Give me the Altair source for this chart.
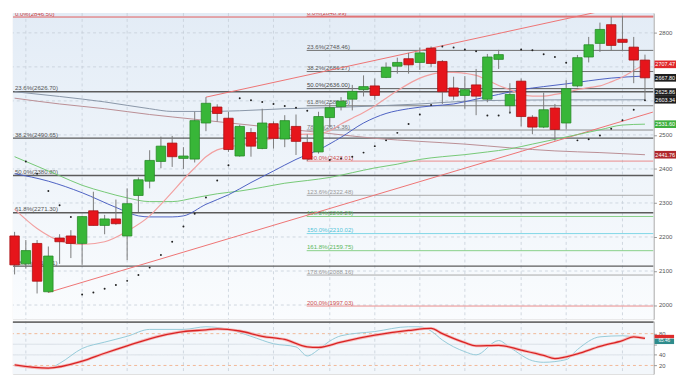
import altair as alt
import pandas as pd

# ---------------- data ----------------
idx = list(range(57))
opens = [2203,2121,2181,2039,2197,2203,2181,2277,2234,2253,2203,2322,2364,2422,2476,2431,2429,2535,2582,2549,
         2438,2507,2460,2533,2488,2525,2478,2450,2551,2583,2605,2633,2644,2669,2702,2724,2713,2755,2716,2638,
         2616,2647,2605,2722,2586,2658,2552,2523,2579,2535,2644,2729,2769,2824,2781,2758,2720]
highs = [2215,2191,2191,2172,2208,2220,2262,2333,2265,2310,2343,2375,2455,2495,2497,2464,2568,2611,2590,2568,
         2530,2520,2577,2540,2558,2560,2502,2568,2594,2611,2647,2675,2666,2713,2727,2741,2757,2760,2720,2671,
         2673,2694,2738,2750,2652,2666,2558,2624,2591,2661,2735,2788,2830,2847,2849,2788,2736]
lows = [2090,2107,2034,2036,2121,2138,2118,2234,2208,2236,2132,2273,2343,2402,2406,2400,2419,2511,2539,2450,
        2436,2436,2458,2460,2464,2441,2423,2445,2521,2572,2572,2613,2603,2667,2680,2680,2691,2699,2591,2603,
        2577,2558,2596,2694,2563,2525,2502,2520,2483,2516,2640,2713,2744,2748,2746,2652,2605]
closes = [2118,2160,2070,2144,2186,2181,2260,2234,2253,2239,2298,2368,2425,2467,2436,2438,2542,2593,2563,2457,
          2525,2467,2535,2490,2542,2481,2429,2554,2580,2599,2628,2642,2616,2699,2713,2706,2741,2710,2627,2614,
          2633,2614,2729,2736,2619,2554,2523,2574,2516,2636,2727,2765,2810,2763,2772,2720,2667.8]

pink_i = [0,2,4,6,8,10,12,13,14,15,16,17,18,19,21,23,25,27,28,29,30,31,32,33,34,35,36,37,38,39,40,41,42,43,44,45,46,47,48,49,50,51,52,53,54,55,56]
pink_v = [2282,2225,2189,2178,2186,2217,2262,2296,2332,2369,2403,2436,2456,2464,2476,2490,2501,2504,2512,2532,2549,2566,2585,2608,2630,2650,2667,2678,2684,2684,2681,2675,2661,2645,2633,2619,2614,2614,2619,2625,2633,2639,2644,2656,2670,2689,2707.47]
blue_i = [0,3,6,9,11,12,14,15,17,19,21,23,25,27,29,31,33,35,37,39,41,43,45,47,49,51,53,56]
blue_v = [2386,2364,2330,2287,2262,2259,2259,2262,2296,2324,2360,2394,2428,2456,2493,2535,2563,2577,2585,2591,2605,2619,2633,2642,2650,2659,2667,2673]
green_i = list(range(0, 57, 2))
green_v = [2436,2408,2380,2352,2332,2315,2304,2304,2315,2327,2335,2346,2358,2366,2375,2389,2403,2414,2428,2436,2442,2450,2459,2473,2487,2501,2515,2529,2531.6]
gray_i = [0,4,8,12,14,17,20,24,28,32,36,40,44,48,52,56]
gray_v = [2627,2613,2597,2577,2569,2569,2571,2577,2580,2585,2591,2599,2602,2603,2603,2603.34]
brown_i = [0,4,8,12,16,20,24,28,32,36,40,44,48,52,56]
brown_v = [2608,2591,2577,2560,2546,2532,2518,2504,2490,2481,2473,2462,2453,2448,2441.76]

chan_up_i = [17, 52]
chan_up_v = [2611, 2863]
chan_lo_i = [3, 56.7]
chan_lo_v = [2037, 2567]

sar_i = [1,2,3,4,5,6,7,8,9,10,11,12,13,14,15,16,17,18,19,20,21,22,23,24,25,26,28,29,30,31,32,33,34,35,36,37,
         38,39,40,41,42,43,44,45,46,47,48,49,50,51,52,53,54,55,56]
sar_v = [2422,2386,2335,2293,2259,2031,2037,2048,2059,2071,2088,2110,2147,2186,2231,2268,2316,2366,2411,2608,
         2602,2597,2591,2585,2580,2571,2426,2431,2436,2448,2467,2484,2506,2532,2560,2588,
         2760,2757,2751,2746,2557,2557,2566,2751,2749,2737,2729,2712,2484,2487,2498,2518,2543,2574,2602]

left_pct = ["0.0%", "23.6%", "38.2%", "50.0%", "61.8%", "78.6%"]
left_val = [2846.50, 2626.70, 2490.65, 2380.80, 2271.30, 2114.41]
right_pct = ["0.0%", "23.6%", "38.2%", "50.0%", "61.8%", "78.6%", "100.0%", "123.6%", "138.2%", "150.0%", "161.8%", "178.6%", "200.0%"]
right_val = [2848.99, 2748.46, 2686.27, 2636.00, 2585.73, 2514.36, 2423.01, 2322.48, 2260.29, 2210.02, 2159.75, 2088.16, 1997.03]

price_ticks = [2000, 2100, 2200, 2300, 2400, 2500, 2600, 2700, 2800]
hidden_price_labels = [2600, 2700]   # covered by the value boxes in the reference
vgrid_i = [1, 6, 10, 15, 19, 23, 28, 32, 36, 40, 45, 49, 54]

box_v = [2707.47, 2667.80, 2625.86, 2603.34, 2531.60, 2441.76]
box_t = ["2707.47", "2667.80", "2625.86", "2603.34", "2531.60", "2441.76"]

stD_i = [0,3,6,8,10,13,15,17,18,20,22,24,26,27,29,32,35,37,38,40,41,43,45,47,48,50,52,54,55,56]
stD_v = [21,15,28,43,57,76,84,87,89,85,75,69,55,54,64,77,86,90,80,63,57,58,49,39,33,42,56,67,74,71]
stK_i = [0,3,4,6,8,10,12,15,17,19,21,23,25,26,27,28,29,32,35,36,37,38,40,41,43,44,46,47,49,50,52,54,55,56]
stK_v = [20,14,24,52,64,75,88,88,93,88,75,61,55,38,50,66,76,84,93,93,85,68,46,40,67,54,29,26,31,50,74,76,74,71]
stoch_ticks = [20, 40, 60, 80]
hidden_stoch_labels = [60]
stoch_band_v = [74.53]
stoch_box_v = [65.46]
stoch_box_t = ["65.46"]

# ---------------- styling ----------------
W, H1, H2 = 655, 313, 54
FONT = "Liberation Sans"
xs = alt.Scale(domain=[-0.15, 56.76], nice=False, zero=False)
ys = alt.Scale(domain=[1958.4, 2858.2], nice=False, zero=False)
ss = alt.Scale(domain=[4, 103.6], nice=False, zero=False)

hide_p = " || ".join(f"datum.value == {v}" for v in hidden_price_labels)
hide_s = " || ".join(f"datum.value == {v}" for v in hidden_stoch_labels)
main_axis = alt.Axis(orient="right", values=price_ticks, tickSize=3, labelFontSize=6.2, labelFont=FONT,
                     labelColor="#555555", tickColor="#999999", domainColor="#999999", labelPadding=2,
                     grid=False, title=None, format="d", zindex=0,
                     labelExpr=f"({hide_p}) ? '' : datum.label")
st_axis = alt.Axis(orient="right", values=stoch_ticks, tickSize=3, labelFontSize=6, labelFont=FONT,
                   labelColor="#555555", tickColor="#999999", domainColor="#999999", labelPadding=2,
                   grid=False, title=None, format="d", zindex=0,
                   labelExpr=f"({hide_s}) ? '' : datum.label")


def X(f):
    return alt.X(f, type="quantitative", scale=xs, axis=None)


def Y(f):
    return alt.Y(f, type="quantitative", scale=ys, axis=main_axis)


def S(f):
    return alt.Y(f, type="quantitative", scale=ss, axis=st_axis)


one = pd.DataFrame({"a": [0]})

# ---------------- main panel ----------------
bg = alt.Chart(one).mark_rect(
    color=alt.LinearGradient(gradient="linear", x1=0, x2=0, y1=0, y2=1,
                             stops=[alt.GradientStop(color="#e3ecf6", offset=0),
                                    alt.GradientStop(color="#fafcfe", offset=1)])
).encode(x=alt.value(0), x2=alt.value(W), y=alt.value(0), y2=alt.value(H1))

hgrid = alt.Chart(pd.DataFrame({"v": price_ticks})).mark_rule(
    color="#c5ced8", strokeDash=[3, 3], strokeWidth=0.8).encode(y=Y("v"))
vgrid = alt.Chart(pd.DataFrame({"g": vgrid_i})).mark_rule(
    color="#c5ced8", strokeDash=[3, 3], strokeWidth=0.8).encode(x=X("g"))

lcol = ["#e05a5a"] + ["#5c5c5c"] * 5
ltxt = ["#d04040"] + ["#555555"] * 5
rcol = ["#e05a5a", "#6a6a6a", "#6a6a6a", "#555555", "#7a7a7a", "#8a8a8a", "#ea8a8a", "#a8a8a8",
        "#86cf86", "#7fd6e6", "#86cf86", "#a8a8a8", "#ea8a8a"]
rtxt = ["#d04040", "#555555", "#555555", "#444444", "#666666", "#777777", "#d05050", "#999999",
        "#5cb85c", "#4fc3d8", "#5cb85c", "#999999", "#d05050"]
fib = pd.DataFrame({
    "xa": [-0.15] * len(left_val) + [25.95] * len(right_val),
    "xb": [56.76] * (len(left_val) + len(right_val)),
    "lx": [0.03] * len(left_val) + [25.97] * len(right_val),
    "v": left_val + right_val,
    "col": lcol + rcol,
    "tc": ltxt + rtxt,
    "w": [1.0] + [1.4] * 5 + [1.0] * len(right_val),
    "lab": [f"{p}({v:.2f})" for p, v in zip(left_pct, left_val)] +
           [f"{p}({v:.2f})" for p, v in zip(right_pct, right_val)],
})
fib_lines = alt.Chart(fib).mark_rule(clip=True).encode(
    x=X("xa"), x2="xb", y=Y("v"),
    color=alt.Color("col:N", scale=None), strokeWidth=alt.StrokeWidth("w:Q", scale=None))
fib_text = alt.Chart(fib).mark_text(align="left", baseline="bottom", dy=-0.5, fontSize=6.2, font=FONT,
                                    clip=True).encode(
    x=X("lx"), y=Y("v"), text="lab:N", color=alt.Color("tc:N", scale=None))


def line_chart(ix, vals, color, width=1.0, interp="monotone"):
    df = pd.DataFrame({"i": ix, "v": vals})
    return alt.Chart(df).mark_line(color=color, strokeWidth=width, interpolate=interp, clip=True).encode(
        x=X("i"), y=Y("v"))


chan_up = line_chart(chan_up_i, chan_up_v, "#ee7272", 1.0, "linear")
chan_lo = line_chart(chan_lo_i, chan_lo_v, "#ee7272", 1.0, "linear")
ma_brown = line_chart(brown_i, brown_v, "#b98c92", 1.0)
ma_gray = line_chart(gray_i, gray_v, "#8795a6", 1.0)
ma_green = line_chart(green_i, green_v, "#74c874", 1.0)
ma_blue = line_chart(blue_i, blue_v, "#4b5fc2", 1.0)
ma_pink = line_chart(pink_i, pink_v, "#f2a0a0", 1.2)

sar = alt.Chart(pd.DataFrame({"i": sar_i, "v": sar_v})).mark_circle(size=4, color="#222222", opacity=1).encode(
    x=X("i"), y=Y("v"))

cd = pd.DataFrame({"i": idx, "o": opens, "h": highs, "l": lows, "c": closes})
cd["top"] = cd[["o", "c"]].max(axis=1)
cd["bot"] = cd[["o", "c"]].min(axis=1)
cd["x1"] = cd["i"] - 0.42
cd["x2"] = cd["i"] + 0.42
up = "datum.c >= datum.o"
wicks = alt.Chart(cd).mark_rule(color="#7a7a7a", strokeWidth=1).encode(x=X("i"), y=Y("l"), y2="h")
bodies = alt.Chart(cd).mark_rect(strokeWidth=0.8).encode(
    x=X("x1"), x2="x2", y=Y("top"), y2="bot",
    color=alt.condition(up, alt.value("#38b638"), alt.value("#e6151b")),
    stroke=alt.condition(up, alt.value("#268a26"), alt.value("#a80f12")))

boxes = pd.DataFrame({"v": box_v, "t": box_t,
                      "bg": ["#e0262a", "#1e1e1e", "#1e1e1e", "#1e1e1e", "#3fb03f", "#b0282c"]})
box_marks = alt.Chart(boxes).mark_tick(orient="horizontal", thickness=7.8, size=22, opacity=1).encode(
    x=alt.value(W + 12), y=Y("v"), color=alt.Color("bg:N", scale=None))
box_text = alt.Chart(boxes).mark_text(fontSize=5.6, font=FONT, color="white", align="center",
                                      baseline="middle").encode(x=alt.value(W + 12), y=Y("v"), text="t:N")

main = alt.layer(bg, hgrid, vgrid, fib_lines, fib_text, chan_up, chan_lo, ma_brown, ma_gray, ma_green,
                 ma_blue, ma_pink, sar, wicks, bodies, box_marks, box_text).properties(width=W, height=H1)

# ---------------- stochastic panel ----------------
sbg = alt.Chart(one).mark_rect(color="#f3f7fb").encode(
    x=alt.value(0), x2=alt.value(W), y=alt.value(0), y2=alt.value(H2))
lvl = pd.DataFrame({"v": stoch_ticks, "col": ["#f0b08c", "#d6dde4", "#d6dde4", "#f0b08c"],
                    "d": [1, 0, 0, 1]})
s_lvls = alt.Chart(lvl).mark_rule(strokeWidth=0.9).encode(
    y=S("v"), color=alt.Color("col:N", scale=None),
    strokeDash=alt.condition("datum.d == 1", alt.value([3, 3]), alt.value([1, 0])))
s_vgrid = alt.Chart(pd.DataFrame({"g": vgrid_i})).mark_rule(
    color="#c5ced8", strokeDash=[3, 3], strokeWidth=0.8).encode(x=X("g"))
dfK = pd.DataFrame({"i": stK_i, "v": stK_v})
dfD = pd.DataFrame({"i": stD_i, "v": stD_v})
k_line = alt.Chart(dfK).mark_line(color="#93cad8", strokeWidth=1, interpolate="monotone", clip=True).encode(
    x=X("i"), y=S("v"))
d_glow = alt.Chart(dfD).mark_line(color="#f5b8b8", strokeWidth=3, interpolate="monotone", clip=True).encode(
    x=X("i"), y=S("v"))
d_line = alt.Chart(dfD).mark_line(color="#d92323", strokeWidth=1.3, interpolate="monotone", clip=True).encode(
    x=X("i"), y=S("v"))
top_rule = alt.Chart(one).mark_rule(color="#6e6e6e", strokeWidth=2).encode(
    x=alt.value(0), x2=alt.value(W), y=alt.value(1))
s_band = alt.Chart(pd.DataFrame({"v": stoch_band_v})).mark_tick(
    orient="horizontal", thickness=3.5, size=20, opacity=1, color="#dd2b2b").encode(
    x=alt.value(W + 11), y=S("v"))
sb = pd.DataFrame({"v": stoch_box_v, "t": stoch_box_t})
s_box = alt.Chart(sb).mark_tick(orient="horizontal", thickness=5.5, size=20, opacity=1,
                                color="#2f8c8c").encode(x=alt.value(W + 11), y=S("v"))
s_box_t = alt.Chart(sb).mark_text(fontSize=4.8, font=FONT, color="white", align="center",
                                  baseline="middle").encode(x=alt.value(W + 11), y=S("v"), text="t:N")

stoch = alt.layer(sbg, s_lvls, s_vgrid, k_line, d_glow, d_line, top_rule, s_band, s_box, s_box_t).properties(
    width=W, height=H2)

chart = alt.vconcat(main, stoch, spacing=0, padding=0).configure_view(stroke=None).configure(
    background="white")

chart.save("out.html", embed_options={"renderer": "svg", "actions": False})
